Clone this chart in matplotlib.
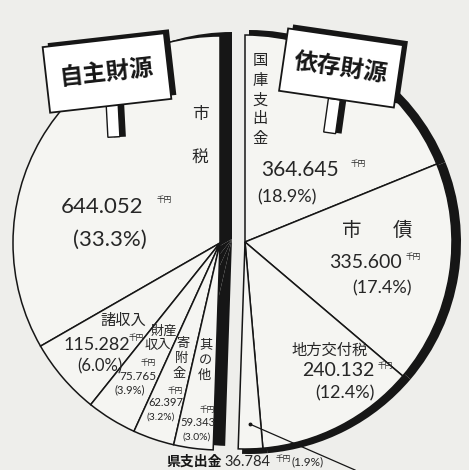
import matplotlib
matplotlib.use('Agg')
import matplotlib.pyplot as plt
from matplotlib.patches import Rectangle
import numpy as np

plt.rcParams['font.family'] = ['Noto Sans CJK JP', 'DejaVu Sans']

# 自主財源 (千円)
own_names = ['市税', '諸収入', '財産収入', '寄附金', '其の他']
own_values = [644052, 115282, 75765, 62397, 59343]
own_pct = [33.3, 6.0, 3.9, 3.2, 3.0]

# 依存財源 (千円)
dep_names = ['国庫支出金', '市債', '地方交付税', '県支出金']
dep_values = [364645, 335600, 240132, 36784]
dep_pct = [18.9, 17.4, 12.4, 1.9]

total = sum(own_values) + sum(dep_values)


def fmt(v):
    return f'{v:,}'.replace(',', '.')


W, H = 469, 470
BG = '#eeeeeb'
PAPER = '#f5f5f2'
INK = '#161616'
TXT = '#262626'
NUM = ['Lato', 'Noto Sans CJK JP']

fig = plt.figure(figsize=(W / 100, H / 100), dpi=100, facecolor=BG)
ax = fig.add_axes([0, 0, 1, 1])
ax.set_facecolor(BG)

R = 207
cl = (220, H - 243)   # 自主財源 centre
cr = (245, H - 242)   # 依存財源 centre

own_frac = [v / total for v in own_values]
dep_frac = [v / total for v in dep_values]

# black "thickness" of the two cut halves
ax.pie(own_frac, normalize=False, startangle=90, counterclock=True,
       center=(cl[0] + 12, cl[1] + 4), radius=R, colors=[INK] * 5,
       wedgeprops=dict(linewidth=0, zorder=1))
ax.pie(dep_frac, normalize=False, startangle=90, counterclock=False,
       center=(cr[0] + 4, cr[1]), radius=R + 5, colors=[INK] * 4,
       wedgeprops=dict(linewidth=0, zorder=1))

# faces
wl, _ = ax.pie(own_frac, normalize=False, startangle=90, counterclock=True,
               center=cl, radius=R, colors=[PAPER] * 5,
               wedgeprops=dict(edgecolor=INK, linewidth=1.1, zorder=2))
wr, _ = ax.pie(dep_frac, normalize=False, startangle=90, counterclock=False,
               center=cr, radius=R, colors=[PAPER] * 4,
               wedgeprops=dict(edgecolor=INK, linewidth=1.1, zorder=2))


def t(x, y, s, size, **kw):
    kw.setdefault('color', TXT)
    ax.text(x, H - y, s, fontsize=size, ha='center', va='center', zorder=6, **kw)


def num(x, y, s, size):
    t(x, y, s, size, family=NUM)


def vert(xs, ys, s, size):
    for ch, x, y in zip(s, xs, ys):
        t(x, y, ch, size)


def yen(x, y):
    t(x, y, '千円', 5.5)


# --- 自主財源 labels ---
vert([200, 200], [115, 158], own_names[0], 12)
num(102, 207, fmt(own_values[0]), 16)
yen(164, 200)
num(110, 240, f'({own_pct[0]}%)', 16)

t(123, 320, own_names[1], 11)
num(97, 345, fmt(own_values[1]), 13)
yen(136, 338)
num(100, 366, f'({own_pct[1]}%)', 12)

t(164, 331, own_names[2][:2], 9.5)
t(158, 346, own_names[2][2:], 9.5)
yen(148, 363)
num(138, 376, fmt(own_values[2]), 8.5)
num(130, 390, f'({own_pct[2]}%)', 8)

vert([183, 181, 179], [343, 358, 373], own_names[3], 9.5)
yen(175, 391)
num(166, 403, fmt(own_values[3]), 8)
num(161, 417, f'({own_pct[3]}%)', 7.5)

vert([206, 205, 204], [345, 360, 375], own_names[4], 9.5)
yen(207, 410)
num(198, 423, fmt(own_values[4]), 8)
num(197, 437, f'({own_pct[4]}%)', 7.5)

# --- 依存財源 labels ---
vert([260] * 5, [60, 80, 100, 119, 138], dep_names[0], 11)
num(300, 170, fmt(dep_values[0]), 15)
yen(358, 164)
num(287, 197, f'({dep_pct[0]}%)', 13)

t(352, 230, dep_names[1][0], 14)
t(402, 230, dep_names[1][1], 14)
num(365, 262, fmt(dep_values[1]), 14)
yen(413, 257)
num(382, 288, f'({dep_pct[1]}%)', 13)

t(330, 350, dep_names[2], 11)
num(338, 371, fmt(dep_values[2]), 14)
yen(385, 366)
num(345, 393, f'({dep_pct[2]}%)', 13)

# 県支出金 sits outside with a leader line
w = wr[3]
mid = np.deg2rad((w.theta1 + w.theta2) / 2)
sx = w.center[0] + 0.88 * w.r * np.cos(mid)
sy = w.center[1] + 0.88 * w.r * np.sin(mid)
ax.plot([sx, 355], [sy, H - 470], color=INK, lw=0.9, zorder=6, clip_on=False)
ax.plot([sx], [sy], 'o', ms=1.8, color=INK, zorder=6)
t(194, 462, dep_names[3], 10, fontweight='bold', color=INK)
num(247, 462, fmt(dep_values[3]), 10.5)
yen(283, 459)
num(308, 462, f'({dep_pct[3]}%)', 8.5)


# --- sign boards ---
def board(cx, cy, bw, bh, ang, text, px, py, pang):
    cy = H - cy
    py = H - py
    ax.add_patch(Rectangle((px, py - 17), 12, 34, angle=pang,
                           rotation_point='center', facecolor=INK, zorder=4))
    ax.add_patch(Rectangle((px - 6, py - 17), 12, 34, angle=pang,
                           rotation_point='center', facecolor='white',
                           edgecolor=INK, lw=1.0, zorder=4))
    ax.add_patch(Rectangle((cx - bw / 2 + 5, cy - bh / 2 + 4), bw, bh, angle=ang,
                           rotation_point='center', facecolor=INK, zorder=5))
    ax.add_patch(Rectangle((cx - bw / 2, cy - bh / 2), bw, bh, angle=ang,
                           rotation_point='center', facecolor='white',
                           edgecolor=INK, lw=1.3, zorder=5))
    ax.text(cx, cy, text, fontsize=17, fontweight='bold', rotation=ang,
            rotation_mode='anchor', ha='center', va='center', color=INK, zorder=7)


board(107, 73, 122, 66, 6.5, '自主財源', 113, 120, 3)
board(341, 68, 116, 63, -8.3, '依存財源', 332, 116, -8)

ax.set_xlim(0, W)
ax.set_ylim(0, H)
ax.set_aspect('equal')
ax.axis('off')
fig.savefig('out.png', dpi=100, facecolor=BG)
